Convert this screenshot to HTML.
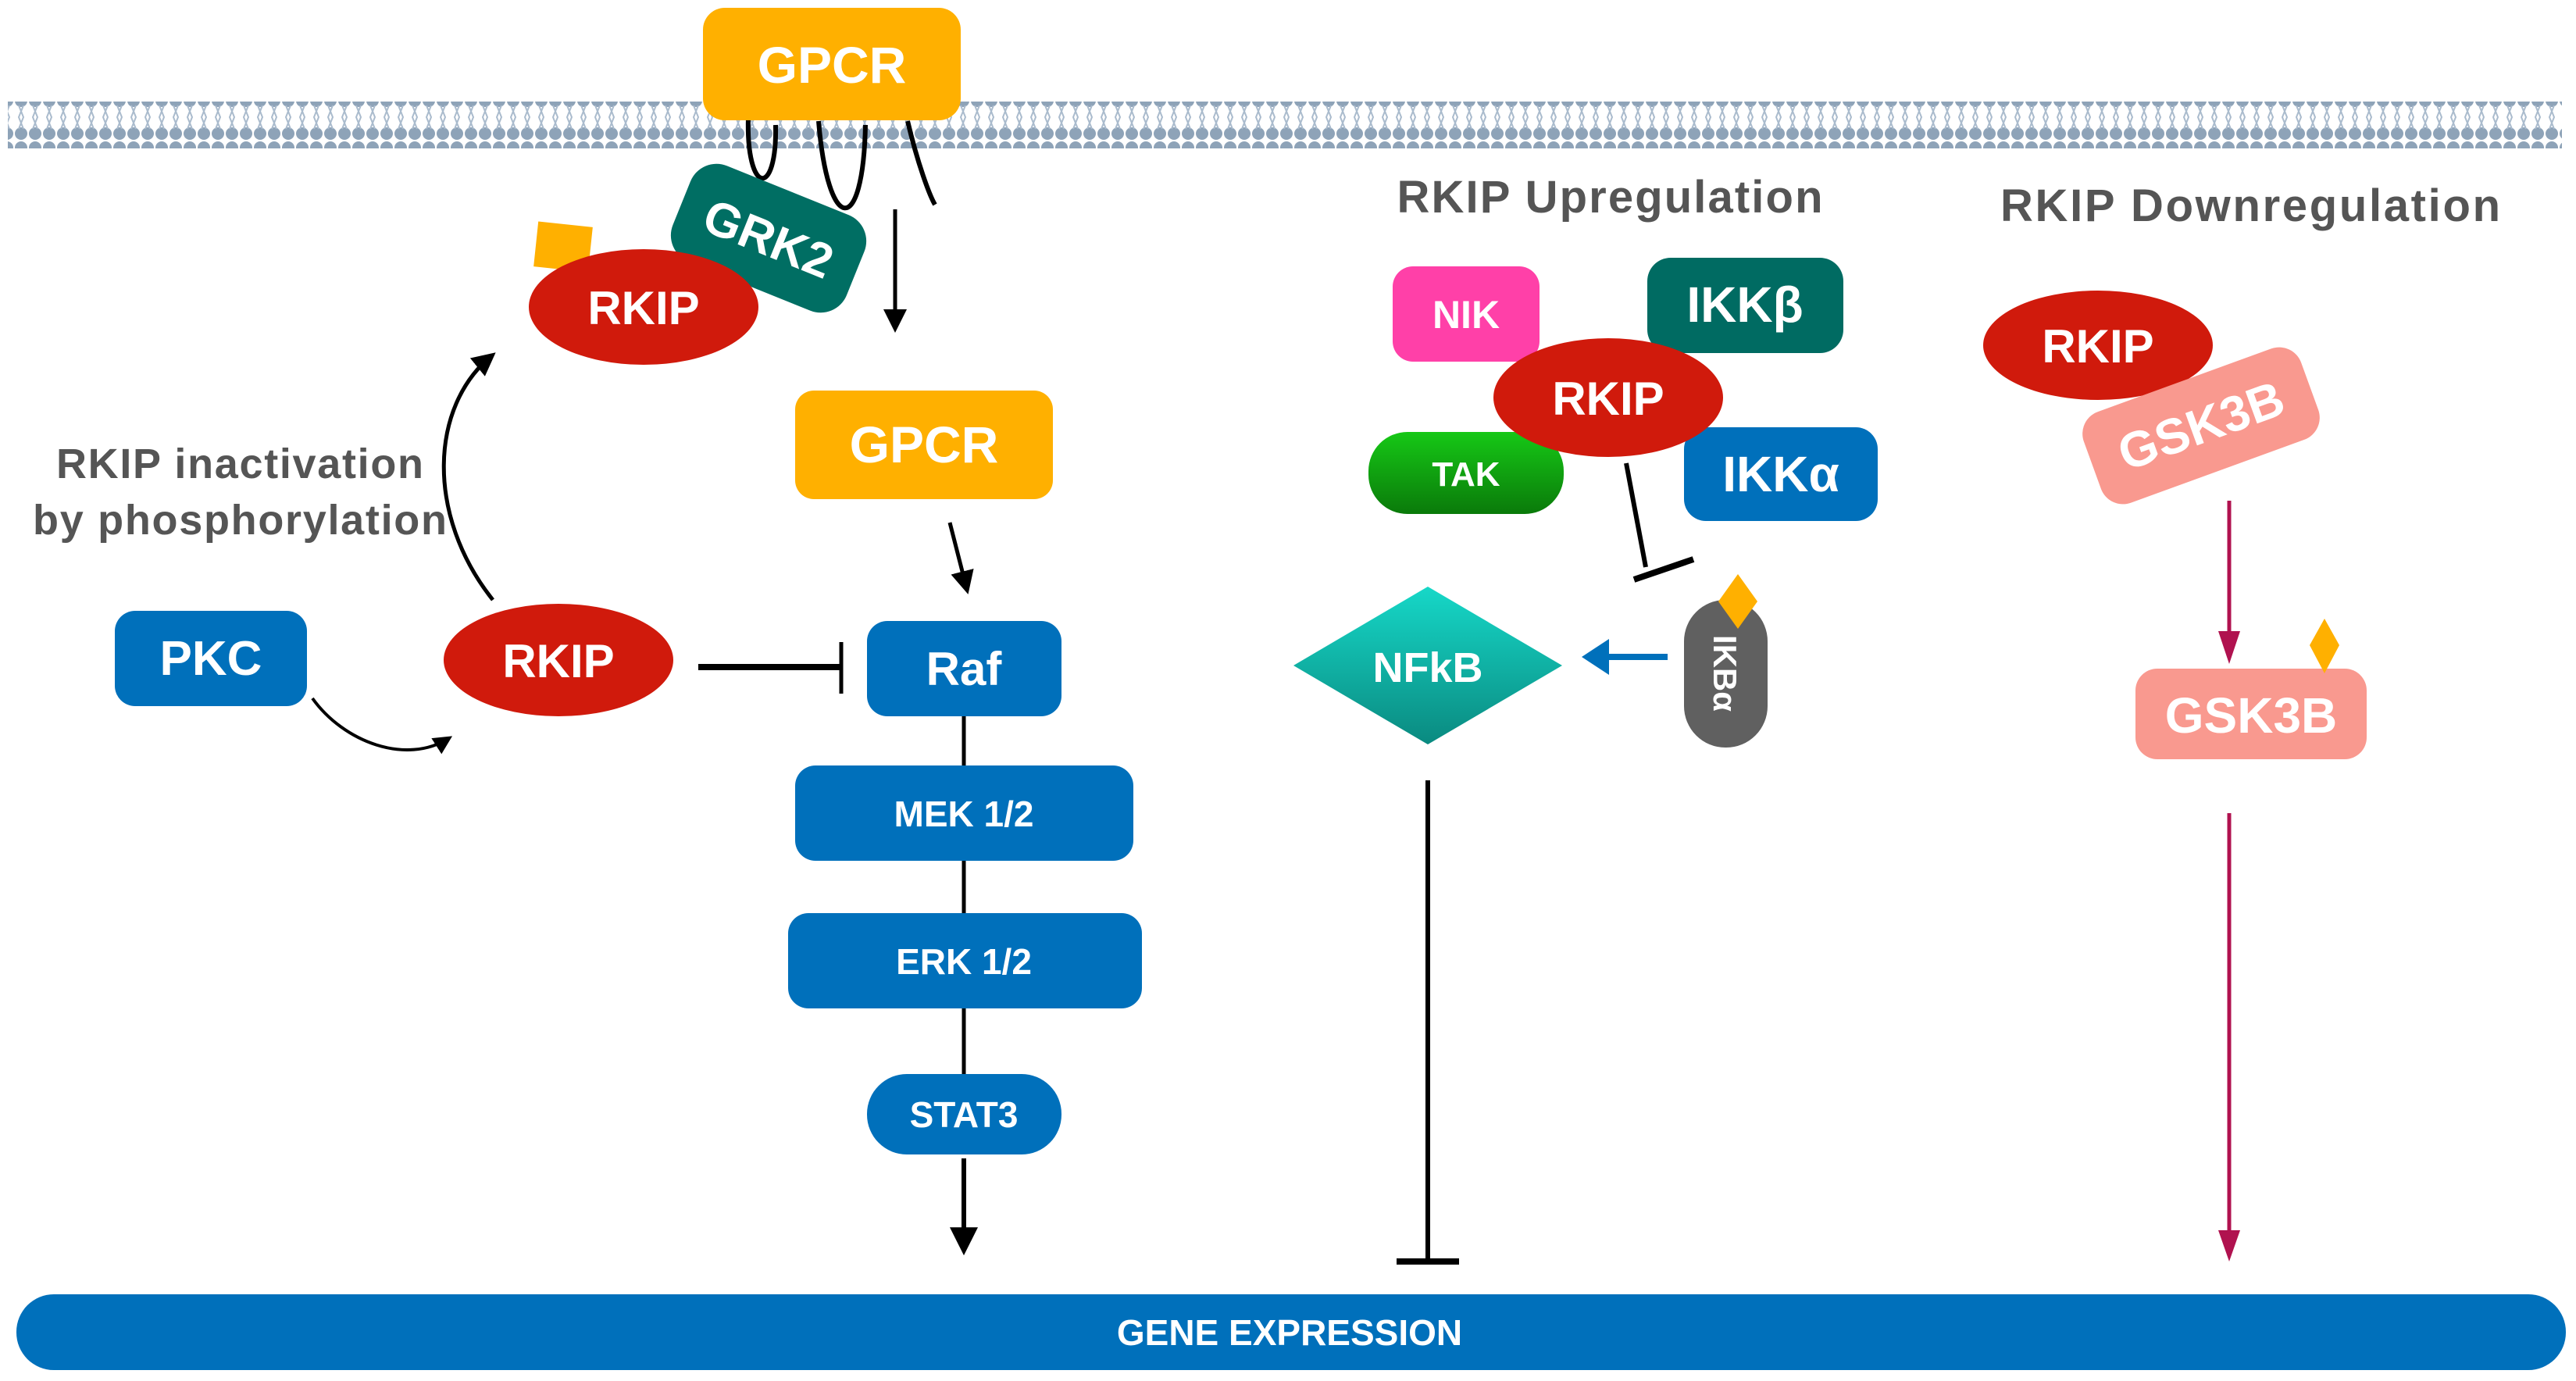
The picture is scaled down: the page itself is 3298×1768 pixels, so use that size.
<!DOCTYPE html>
<html><head><meta charset="utf-8"><style>
html,body{margin:0;padding:0;background:#fff;}
svg{display:block;}
text{font-family:"Liberation Sans",sans-serif;font-weight:bold;}
</style></head><body>
<svg width="3298" height="1768" viewBox="0 0 3298 1768" xmlns="http://www.w3.org/2000/svg">
<defs>
<pattern id="lip" width="18" height="60" patternUnits="userSpaceOnUse">
<circle cx="9" cy="9" r="8" fill="#8ea3b8"/>
<circle cx="9" cy="51" r="8" fill="#8ea3b8"/>
<path d="M6 15 L12 30 L6 45 M12 15 L6 30 L12 45" stroke="#aabbcd" stroke-width="2" fill="none"/>
</pattern>
<linearGradient id="tak" x1="0" y1="0" x2="0" y2="1"><stop offset="0" stop-color="#16c816"/><stop offset="1" stop-color="#0a7a0a"/></linearGradient>
<linearGradient id="nfk" x1="0" y1="0" x2="0" y2="1"><stop offset="0" stop-color="#16d8c8"/><stop offset="1" stop-color="#0a8a80"/></linearGradient>
<marker id="ab" markerWidth="6" markerHeight="6" refX="8" refY="5" orient="auto" markerUnits="strokeWidth" viewBox="0 0 10 10"><path d="M0 0 L10 5 L0 10 z" fill="#000"/></marker>
</defs>
<rect x="10" y="130" width="3270" height="60" fill="url(#lip)"/>
<path d="M958 150 C955 250 995 255 993 160" stroke="#000" stroke-width="6" fill="none"/>
<path d="M1048 155 C1060 300 1105 305 1108 160" stroke="#000" stroke-width="6" fill="none"/>
<path d="M1162 155 C1175 210 1190 250 1197 262" stroke="#000" stroke-width="6" fill="none"/>
<rect x="900" y="10" width="330" height="144" rx="28" fill="#ffb000"/>
<text x="1065" y="106" font-size="66" fill="#fff" text-anchor="middle">GPCR</text>
<g transform="translate(984,305) rotate(22)">
<rect x="-120" y="-66" width="240" height="132" rx="36" fill="#006e63"/>
<text x="0" y="22" font-size="62" fill="#fff" text-anchor="middle">GRK2</text>
</g>
<rect x="686" y="287" width="70" height="58" fill="#ffb000" transform="rotate(6 721 316)"/>
<ellipse cx="824" cy="393" rx="147" ry="74" fill="#d01a0c"/>
<text x="824" y="415" font-size="60" fill="#fff" text-anchor="middle">RKIP</text>
<line x1="1146" y1="268" x2="1146" y2="420" stroke="#000" stroke-width="5" marker-end="url(#ab)"/>
<rect x="1018" y="500" width="330" height="139" rx="24" fill="#ffb000"/>
<text x="1183" y="592" font-size="66" fill="#fff" text-anchor="middle">GPCR</text>
<line x1="1216" y1="669" x2="1238" y2="755" stroke="#000" stroke-width="5" marker-end="url(#ab)"/>
<line x1="1234" y1="917" x2="1234" y2="1375" stroke="#000" stroke-width="5"/>
<rect x="1110" y="795" width="249" height="122" rx="26" fill="#0070bb"/>
<text x="1234" y="877" font-size="60" fill="#fff" text-anchor="middle">Raf</text>
<rect x="1018" y="980" width="433" height="122" rx="26" fill="#0070bb"/>
<text x="1234" y="1058" font-size="46" fill="#fff" text-anchor="middle">MEK 1/2</text>
<rect x="1009" y="1169" width="453" height="122" rx="26" fill="#0070bb"/>
<text x="1234" y="1247" font-size="46" fill="#fff" text-anchor="middle">ERK 1/2</text>
<rect x="1110" y="1375" width="249" height="103" rx="51" fill="#0070bb"/>
<text x="1234" y="1443" font-size="46" fill="#fff" text-anchor="middle">STAT3</text>
<line x1="1234" y1="1483" x2="1234" y2="1600" stroke="#000" stroke-width="6" marker-end="url(#ab)"/>
<rect x="147" y="782" width="246" height="122" rx="26" fill="#0070bb"/>
<text x="270" y="864" font-size="62" fill="#fff" text-anchor="middle">PKC</text>
<ellipse cx="715" cy="845" rx="147" ry="72" fill="#d01a0c"/>
<text x="715" y="867" font-size="60" fill="#fff" text-anchor="middle">RKIP</text>
<line x1="894" y1="854" x2="1077" y2="854" stroke="#000" stroke-width="8"/>
<line x1="1077" y1="822" x2="1077" y2="888" stroke="#000" stroke-width="5"/>
<path d="M400 894 C440 950 520 980 575 945" stroke="#000" stroke-width="4" fill="none" marker-end="url(#ab)"/>
<path d="M631 768 C545 660 550 520 630 455" stroke="#000" stroke-width="5" fill="none" marker-end="url(#ab)"/>
<text x="307" y="612" font-size="54" fill="#555" text-anchor="middle" textLength="470">RKIP inactivation</text>
<text x="307" y="684" font-size="54" fill="#555" text-anchor="middle" textLength="530">by phosphorylation</text>
<text x="2061" y="272" font-size="58" fill="#555" text-anchor="middle" textLength="545">RKIP Upregulation</text>
<rect x="1783" y="341" width="188" height="122" rx="26" fill="#ff40a8"/>
<text x="1877" y="420" font-size="50" fill="#fff" text-anchor="middle">NIK</text>
<rect x="2109" y="330" width="251" height="122" rx="30" fill="#006b62"/>
<text x="2234" y="412" font-size="64" fill="#fff" text-anchor="middle">IKKβ</text>
<rect x="1752" y="553" width="250" height="105" rx="50" fill="url(#tak)"/>
<text x="1877" y="622" font-size="44" fill="#fff" text-anchor="middle">TAK</text>
<rect x="2156" y="547" width="248" height="120" rx="28" fill="#0070bb"/>
<text x="2280" y="629" font-size="64" fill="#fff" text-anchor="middle">IKKα</text>
<ellipse cx="2059" cy="509" rx="147" ry="76" fill="#d01a0c"/>
<text x="2059" y="531" font-size="60" fill="#fff" text-anchor="middle">RKIP</text>
<line x1="2082" y1="593" x2="2107" y2="726" stroke="#000" stroke-width="6"/>
<line x1="2092" y1="742" x2="2168" y2="716" stroke="#000" stroke-width="8"/>
<polygon points="1828,751 2000,852 1828,953 1656,852" fill="url(#nfk)"/>
<text x="1828" y="873" font-size="54" fill="#fff" text-anchor="middle">NFkB</text>
<line x1="2135" y1="841" x2="2055" y2="841" stroke="#0070bb" stroke-width="8"/>
<polygon points="2025,841 2060,818 2060,864" fill="#0070bb"/>
<rect x="2156" y="768" width="107" height="189" rx="53" fill="#606060"/>
<text transform="translate(2194,862) rotate(90)" font-size="42" fill="#fff" text-anchor="middle">IKBα</text>
<polygon points="2225,735 2250,770 2225,805 2200,770" fill="#ffb000"/>
<line x1="1828" y1="999" x2="1828" y2="1615" stroke="#000" stroke-width="6"/>
<line x1="1788" y1="1615" x2="1868" y2="1615" stroke="#000" stroke-width="8"/>
<text x="2881" y="283" font-size="58" fill="#555" text-anchor="middle" textLength="640">RKIP Downregulation</text>
<ellipse cx="2686" cy="442" rx="147" ry="70" fill="#d01a0c"/>
<text x="2686" y="464" font-size="60" fill="#fff" text-anchor="middle">RKIP</text>
<g transform="translate(2818,545) rotate(-20)">
<rect x="-148" y="-62" width="296" height="124" rx="30" fill="#f9998f"/>
<text x="0" y="22" font-size="64" fill="#fff" text-anchor="middle">GSK3B</text>
</g>
<line x1="2854" y1="641" x2="2854" y2="810" stroke="#b0124f" stroke-width="5"/>
<polygon points="2854,850 2840,808 2868,808" fill="#b0124f"/>
<rect x="2734" y="856" width="296" height="116" rx="28" fill="#f9998f"/>
<text x="2882" y="938" font-size="64" fill="#fff" text-anchor="middle">GSK3B</text>
<polygon points="2976,792 2995,826 2976,862 2957,826" fill="#ffb000"/>
<line x1="2854" y1="1041" x2="2854" y2="1580" stroke="#b0124f" stroke-width="5"/>
<polygon points="2854,1615 2840,1575 2868,1575" fill="#b0124f"/>
<rect x="21" y="1657" width="3264" height="97" rx="48" fill="#0070bb"/>
<text x="1651" y="1722" font-size="46" fill="#fff" text-anchor="middle">GENE EXPRESSION</text>
</svg>
</body></html>
